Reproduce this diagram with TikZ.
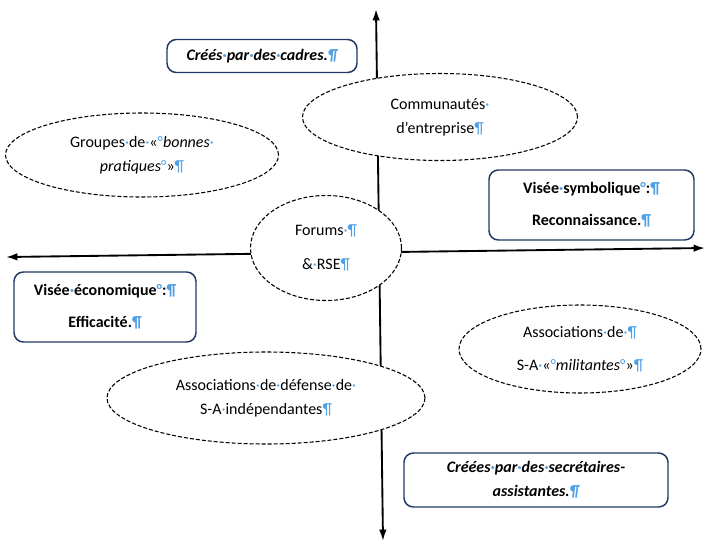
\documentclass[tikz,border=0pt]{standalone}
\usepackage{fontspec}
\setmainfont{Carlito}
\usepackage{tikz}
\usetikzlibrary{arrows.meta,shapes.geometric}

\definecolor{boxblue}{RGB}{31,56,100}
\definecolor{pilblue}{RGB}{80,160,230}
\newcommand{\pil}{{\color{pilblue}¶}}
\newcommand{\dt}{{\color{pilblue}·}}
\newcommand{\dg}{{\color{pilblue}°}}

\begin{document}
\begin{tikzpicture}[
    x=0.75pt,y=-0.75pt,
    font=\fontsize{12}{18}\selectfont,
    bubble/.style={ellipse,draw,fill=white,dash pattern=on 3pt off 1.5pt,line width=0.8pt,align=center,inner sep=0pt},
    card/.style={draw=boxblue,fill=white,line width=1.1pt,rounded corners=7pt,align=center,inner sep=0pt,font=\fontsize{12}{18}\selectfont\bfseries},
    axis/.style={{Latex[length=3mm,width=2mm]}-{Latex[length=3mm,width=2mm]},line width=1.4pt}
  ]
    \useasboundingbox (0,0) rectangle (706,544);

    % axes
    \coordinate (top) at (376,9);
    \coordinate (bottom) at (383,541);
    \coordinate (left) at (6,257);
    \coordinate (right) at (705,248);
    \draw[axis] (bottom) -- (top);
    \draw[axis] (left) -- (right);

    % bubbles
    \node[bubble,minimum width=204.75pt,minimum height=63pt] (groupes) at (142,155)
      {Groupes\dt de\dt «\dg\textit{bonnes}\dt\\\textit{pratiques}\dg»\pil};
    \node[bubble,minimum width=206.25pt,minimum height=65.25pt] (communautes) at (440,117)
      {Communautés\dt\\d’entreprise\pil};
    \node[bubble,minimum width=113.25pt,minimum height=78.75pt] (forums) at (326,248)
      {Forums\dt\pil\\[7pt]\&\dt RSE\pil};
    \node[bubble,minimum width=181.5pt,minimum height=66pt] (militantes) at (580,349)
      {Associations\dt de\dt\pil\\[7pt]S-A\dt «\dg\textit{militantes}\dg»\pil};
    \node[bubble,minimum width=238.5pt,minimum height=69pt] (defense) at (266,398)
      {Associations\dt de\dt défense\dt de\dt\\S-A\dt indépendantes\pil};

    % cards
    \node[card,minimum width=142.5pt,minimum height=24.75pt] (cadres) at (262,56)
      {\itshape Créés\dt par\dt des\dt cadres.\pil};
    \node[card,minimum width=153.75pt,minimum height=52.5pt] (symbolique) at (591.5,205)
      {Visée\dt symbolique\dg:\pil\\[6pt]Reconnaissance.\pil};
    \node[card,minimum width=136.5pt,minimum height=52.5pt] (economique) at (105,307)
      {Visée\dt économique\dg:\pil\\[6pt]Efficacité.\pil};
    \node[card,minimum width=198pt,minimum height=40.5pt] (secretaires) at (536,480)
      {\itshape Créées\dt par\dt des\dt secrétaires-\\\itshape assistantes.\pil};
  \end{tikzpicture}
\end{document}
